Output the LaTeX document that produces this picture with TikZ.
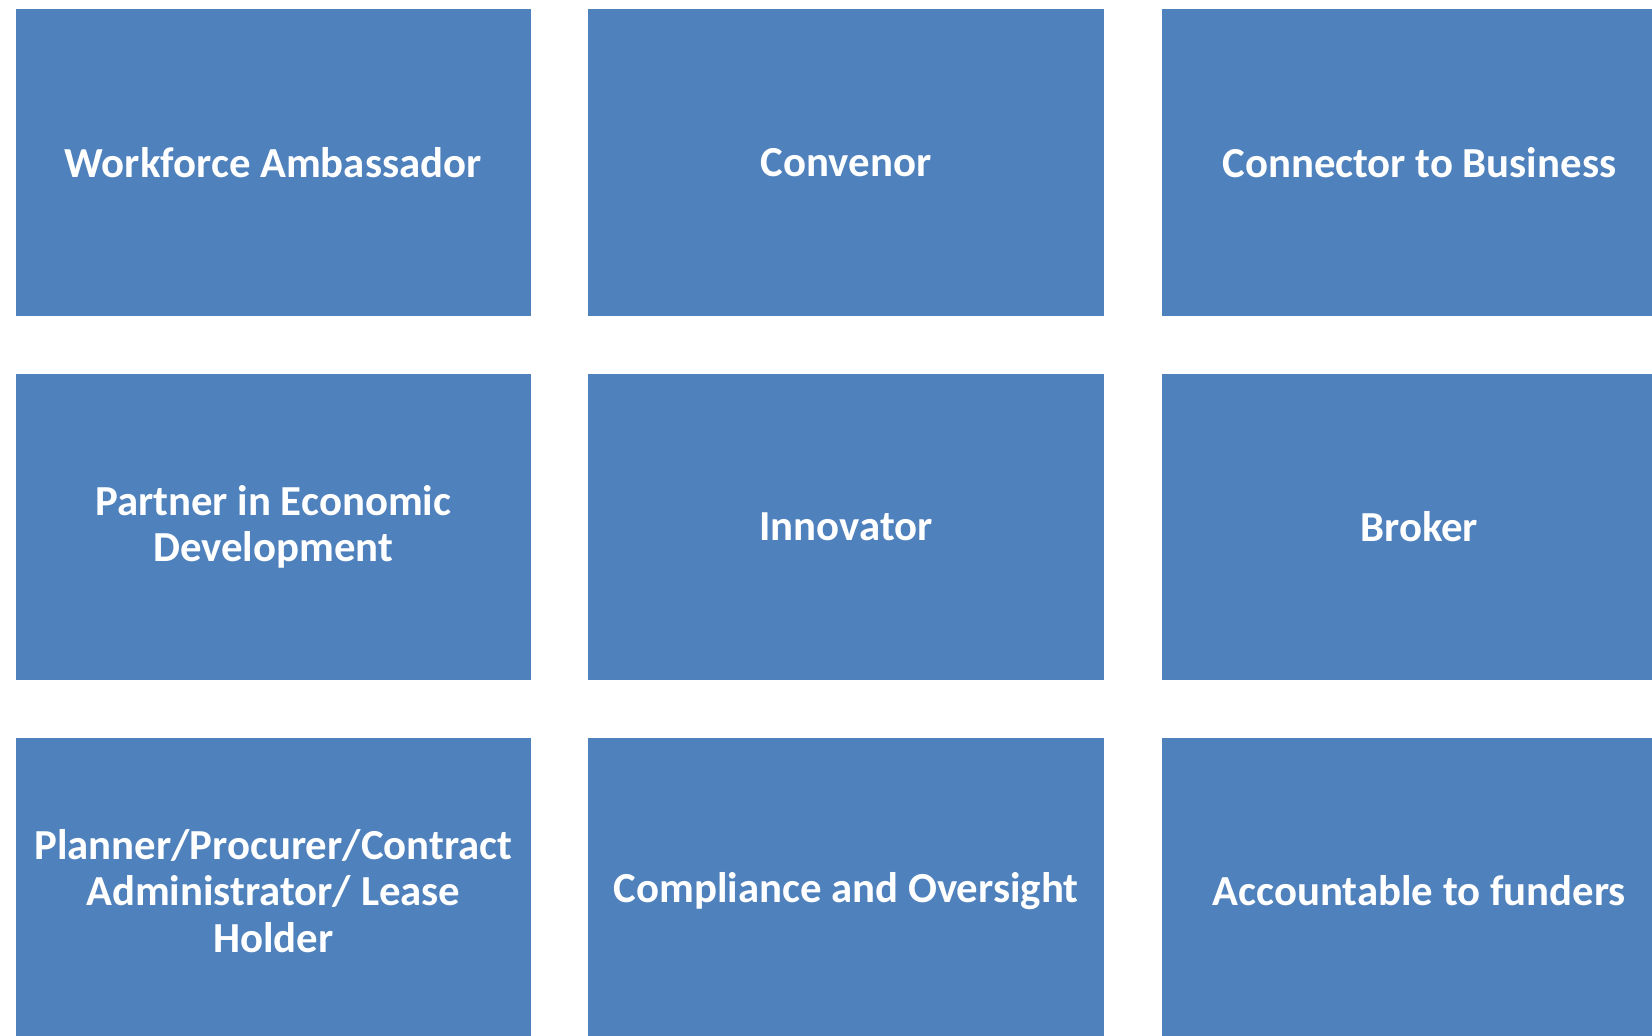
\documentclass[tikz,border=0pt]{standalone}
\usepackage{fontspec}
\setmainfont{Carlito}
\definecolor{boxblue}{HTML}{4F81BD}
\begin{document}
\begin{tikzpicture}[x=1pt,y=-1pt,
  tile/.style={fill=boxblue, draw=none, minimum width=515.5pt, minimum height=306.5pt, inner sep=0pt, outer sep=0pt, anchor=north west, text=white, align=center, font=\fontsize{42.8}{46.4}\selectfont\bfseries}]
\useasboundingbox (0,0) rectangle (1652,1036);
\fill[white] (0,0) rectangle (1652,1036);
\begin{scope}
\clip (0,0) rectangle (1652,1036);
\node[tile] (wa) at (15.5,9) {Workforce Ambassador};
\node[tile] (cv) at (588.3,9) {Convenor};
\node[tile] (cb) at (1161.5,9) {Connector to Business};
\node[tile] (pe) at (15.5,373.5) {Partner in Economic\\Development};
\node[tile] (in) at (588.3,373.5) {Innovator};
\node[tile] (br) at (1161.5,373.5) {Broker};
\node[tile] (pp) at (15.5,737.7) {Planner/Procurer/Contract\\Administrator/ Lease\\Holder};
\node[tile] (co) at (588.3,737.7) {Compliance and Oversight};
\node[tile] (af) at (1161.5,737.7) {Accountable to funders};
\end{scope}
\end{tikzpicture}
\end{document}
